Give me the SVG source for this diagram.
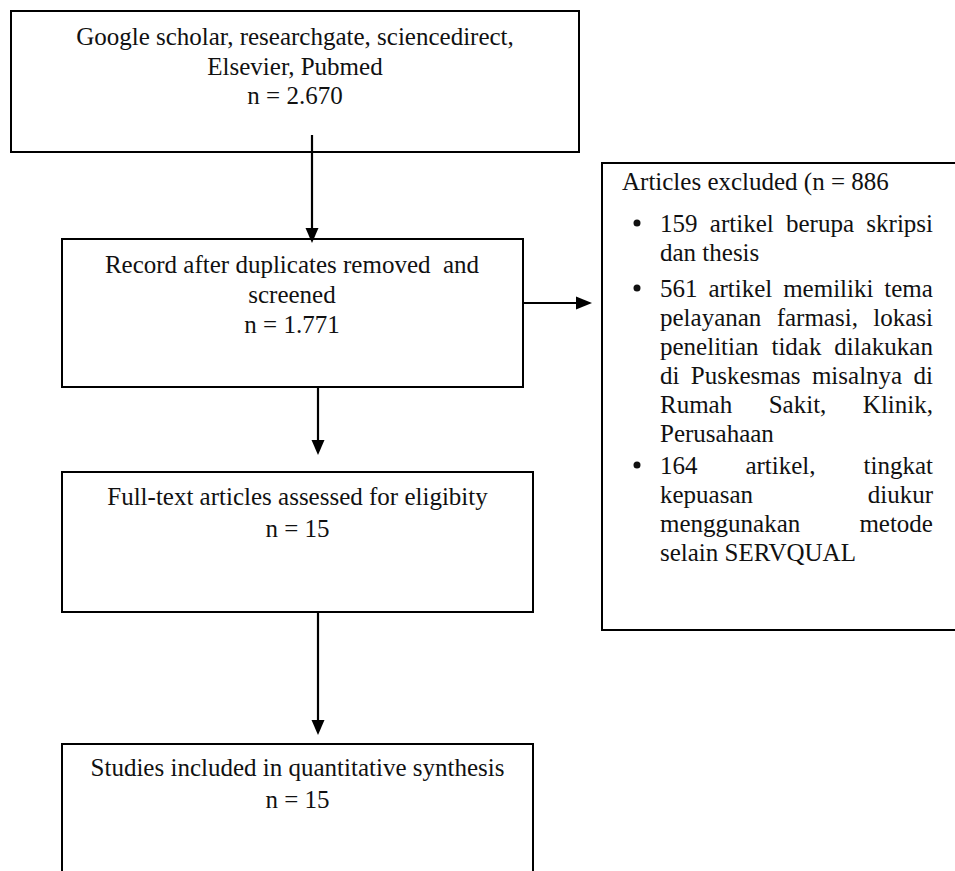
<svg xmlns="http://www.w3.org/2000/svg" width="955" height="871" viewBox="0 0 955 871">
<style>
  .box{fill:#fff;stroke:#000;stroke-width:2}
  .t{font-family:"Liberation Serif","Times New Roman",serif;font-size:25px;fill:#111}
  .c{text-anchor:middle}
  .ln{stroke:#000;stroke-width:2.2;fill:none}
  .ah{fill:#000}
</style>
<rect width="955" height="871" fill="#fff"/>
<g id="n1">
  <rect class="box" x="11" y="11" width="568" height="141"/>
  <text class="t c" x="295" y="45">Google scholar, researchgate, sciencedirect,</text>
  <text class="t c" x="295" y="75">Elsevier, Pubmed</text>
  <text class="t c" x="295" y="104">n = 2.670</text>
</g>
<g id="n2">
  <rect class="box" x="62" y="239" width="461" height="148"/>
  <text class="t c" x="292" y="273">Record after duplicates removed&#160; and</text>
  <text class="t c" x="292" y="303">screened</text>
  <text class="t c" x="292" y="333">n = 1.771</text>
</g>
<g id="n3">
  <rect class="box" x="602" y="163" width="360" height="467"/>
  <text class="t" x="622" y="190">Articles excluded (n = 886</text>
  <circle cx="637" cy="223" r="3.5" fill="#111"/>
  <text class="t" x="660" y="232" word-spacing="6.07">159 artikel berupa skripsi</text>
  <text class="t" x="660" y="261">dan thesis</text>
  <circle cx="637" cy="288" r="3.5" fill="#111"/>
  <text class="t" x="660" y="297" word-spacing="4.65">561 artikel memiliki tema</text>
  <text class="t" x="660" y="326" word-spacing="9.1">pelayanan farmasi, lokasi</text>
  <text class="t" x="660" y="355" word-spacing="6.65">penelitian tidak dilakukan</text>
  <text class="t" x="660" y="384" word-spacing="5.12">di Puskesmas misalnya di</text>
  <text class="t" x="660" y="413" word-spacing="30.25">Rumah Sakit, Klinik,</text>
  <text class="t" x="660" y="442">Perusahaan</text>
  <circle cx="637" cy="465" r="3.5" fill="#111"/>
  <text class="t" x="660" y="474" word-spacing="41.7">164 artikel, tingkat</text>
  <text class="t" x="660" y="503" word-spacing="108.45">kepuasan diukur</text>
  <text class="t" x="660" y="532" word-spacing="52.9">menggunakan metode</text>
  <text class="t" x="660" y="561">selain SERVQUAL</text>
</g>
<g id="n4">
  <rect class="box" x="62" y="472" width="471" height="140"/>
  <text class="t c" x="297.5" y="505">Full-text articles assessed for eligibity</text>
  <text class="t c" x="297.5" y="537">n = 15</text>
</g>
<g id="n5">
  <rect class="box" x="62" y="744" width="471" height="140"/>
  <text class="t c" x="297.5" y="776">Studies included in quantitative synthesis</text>
  <text class="t c" x="297.5" y="808">n = 15</text>
</g>
<g id="connectors">
  <line class="ln" x1="312" y1="135" x2="312" y2="229"/>
  <polygon class="ah" points="305.5,228 318.5,228 312,243"/>
  <line class="ln" x1="523" y1="303" x2="577" y2="303"/>
  <polygon class="ah" points="576,296.5 576,309.5 592,303"/>
  <line class="ln" x1="318" y1="387" x2="318" y2="441"/>
  <polygon class="ah" points="311.5,440 324.5,440 318,455"/>
  <line class="ln" x1="318" y1="612" x2="318" y2="721"/>
  <polygon class="ah" points="311.5,720 324.5,720 318,735"/>
</g>
</svg>
